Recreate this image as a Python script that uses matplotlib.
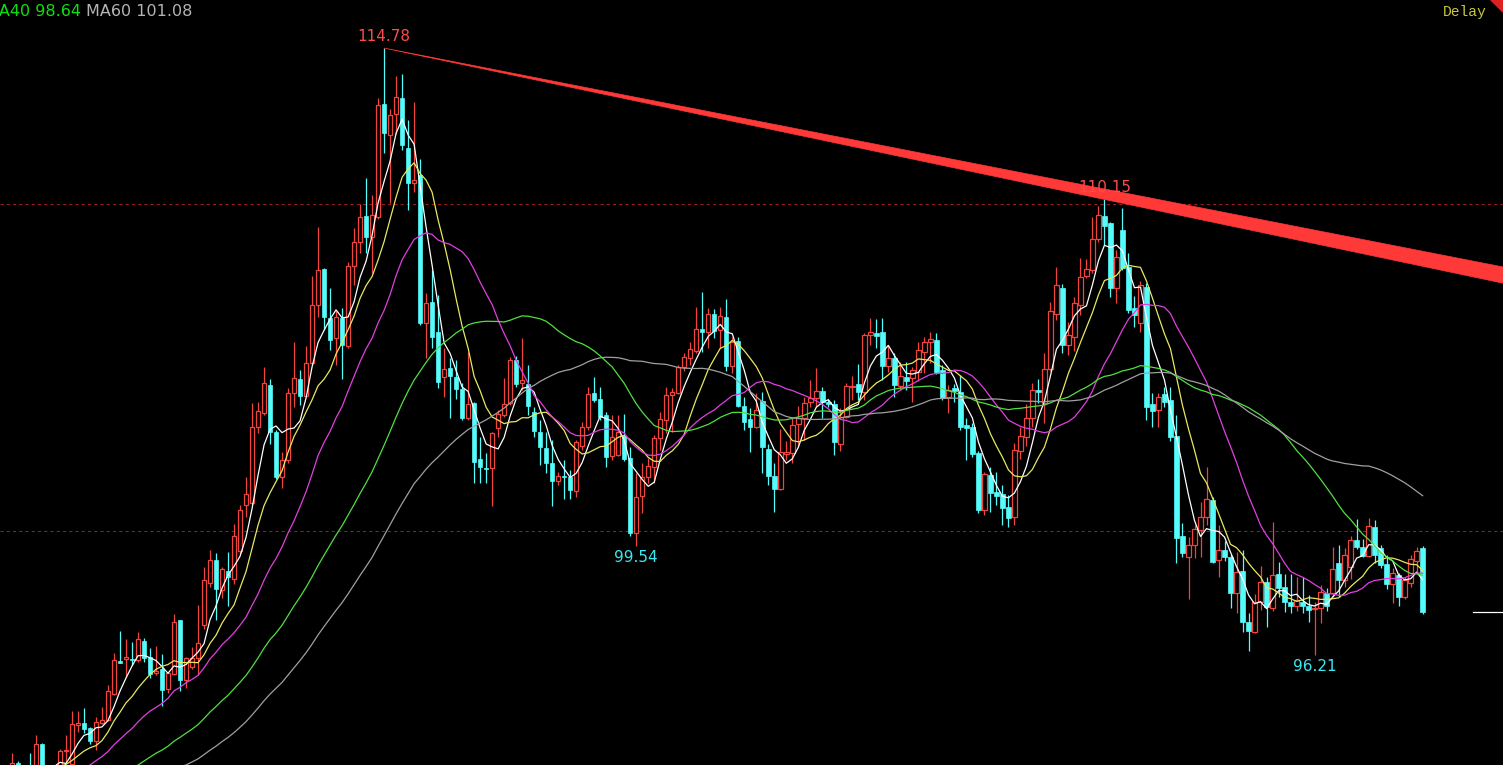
import numpy as np
import pandas as pd
import matplotlib
matplotlib.use("Agg")
import matplotlib.pyplot as plt
from matplotlib.patches import Polygon

# ---------------- data ----------------
# closes before the visible window (needed for the moving averages)
pre_closes = [90.6, 90.9, 90.7, 91.0, 90.8, 90.5, 90.9, 91.1, 90.7, 90.9, 91.0, 90.9,
              91.2, 90.8, 91.0, 91.3, 90.9, 91.1, 90.8, 91.0, 91.2, 91.0, 91.1, 91.1,
              91.5, 91.7, 92.0, 92.0]

opens = [92.50, 92.40, 92.60, 92.92, 92.70, 92.80, 92.70, 93.49, 92.70, 92.50,
         92.70, 93.28, 92.88, 94.07, 94.14, 93.98, 93.59, 94.13, 94.23, 95.02,
         96.03, 96.09, 96.09, 96.06, 96.65, 96.16, 95.67, 95.79, 95.16, 95.63,
         97.28, 95.45, 95.85, 96.13, 97.13, 98.43, 99.12, 98.20, 98.79, 98.54,
         99.40, 100.80, 100.85, 103.20, 103.61, 104.47, 103.04, 101.65, 102.18, 104.22,
         104.65, 104.14, 105.14, 106.92, 108.01, 106.51, 105.90, 106.51, 105.67, 108.11,
         108.86, 109.64, 109.01, 109.62, 113.07, 112.12, 112.76, 113.26, 111.71, 110.66,
         110.90, 106.36, 107.02, 106.08, 104.73, 104.98, 104.73, 104.34, 103.45, 103.91,
         102.21, 101.95, 101.92, 103.15, 103.56, 103.91, 105.24, 104.54, 104.50, 103.66,
         103.04, 102.54, 102.08, 101.54, 101.70, 101.67, 101.24, 102.62, 103.20, 104.22,
         104.04, 103.56, 102.31, 102.33, 102.92, 102.23, 99.94, 101.08, 101.67, 101.97,
         102.84, 103.40, 104.17, 104.24, 105.01, 105.29, 105.52, 106.18, 106.10, 106.64,
         106.16, 106.56, 105.05, 105.83, 103.83, 103.42, 103.20, 103.99, 102.51, 101.69,
         101.29, 102.36, 102.38, 103.28, 103.45, 103.94, 104.07, 104.29, 103.96, 103.89,
         102.67, 103.50, 104.42, 104.50, 104.27, 106.00, 106.05, 106.08, 105.05, 105.29,
         104.44, 104.71, 104.68, 104.88, 105.49, 105.80, 105.85, 104.93, 104.10, 104.37,
         104.27, 103.25, 103.18, 102.38, 100.65, 101.72, 101.19, 101.14, 100.75, 100.43,
         102.46, 102.89, 103.45, 104.32, 103.91, 104.95, 106.64, 107.43, 105.70, 105.95,
         106.92, 107.82, 107.99, 108.93, 109.64, 109.42, 107.43, 109.21, 108.09, 106.82,
         106.38, 107.48, 103.89, 103.71, 104.20, 104.01, 102.91, 99.85, 99.20, 99.58,
         100.04, 100.43, 100.95, 99.12, 99.43, 99.22, 98.12, 98.78, 97.23, 96.93,
         97.84, 98.46, 97.64, 98.69, 98.29, 97.84, 97.72, 97.84, 97.72, 97.62,
         97.64, 98.10, 98.10, 99.02, 98.51, 98.91, 99.73, 99.53, 99.24, 100.12,
         99.48, 99.00, 98.38, 98.66, 97.99, 98.41, 99.10, 99.50]

highs = [92.80, 92.80, 93.22, 92.97, 92.80, 93.22, 93.77, 93.52, 92.80, 92.80,
         93.35, 93.77, 94.51, 94.49, 94.59, 94.00, 94.33, 94.63, 95.30, 96.27,
         96.96, 96.70, 96.62, 96.92, 96.75, 96.43, 96.49, 96.24, 95.60, 97.47,
         97.30, 96.15, 96.47, 97.74, 98.91, 99.43, 99.33, 98.90, 99.37, 100.22,
         100.80, 101.67, 103.93, 103.96, 105.03, 104.66, 103.10, 102.43, 104.37, 105.80,
         104.93, 105.67, 107.81, 109.30, 108.06, 107.43, 106.75, 106.82, 108.24, 109.27,
         110.01, 110.80, 110.28, 113.24, 114.78, 112.91, 113.93, 113.98, 112.58, 113.14,
         111.38, 107.28, 107.99, 107.23, 105.60, 105.29, 105.24, 104.53, 105.49, 103.95,
         102.89, 102.38, 103.05, 103.71, 104.68, 105.32, 105.36, 105.90, 105.08, 103.81,
         103.40, 103.04, 102.79, 101.80, 102.18, 101.87, 102.80, 103.35, 104.42, 104.71,
         104.42, 103.65, 103.56, 103.56, 103.59, 102.58, 101.77, 102.08, 102.25, 102.94,
         103.66, 104.40, 104.37, 105.08, 105.44, 105.78, 106.87, 107.33, 106.82, 106.80,
         106.87, 107.09, 105.95, 105.95, 104.12, 103.76, 104.22, 104.27, 102.67, 102.10,
         103.12, 102.77, 103.50, 103.83, 104.12, 104.63, 104.98, 104.40, 104.05, 104.00,
         103.76, 104.52, 104.75, 105.12, 106.07, 106.51, 106.50, 106.51, 105.70, 105.45,
         105.18, 105.18, 105.03, 105.80, 105.95, 106.10, 106.05, 105.10, 104.47, 104.50,
         104.78, 103.45, 103.30, 102.45, 101.82, 101.97, 101.82, 101.40, 101.10, 102.69,
         103.20, 103.89, 104.54, 104.65, 105.44, 107.02, 108.07, 107.56, 106.41, 107.17,
         108.35, 108.32, 109.62, 109.95, 110.15, 109.47, 108.60, 109.88, 108.50, 107.20,
         107.66, 107.60, 104.22, 104.24, 104.42, 104.42, 103.56, 100.24, 99.83, 100.19,
         100.90, 101.97, 101.05, 100.19, 99.70, 99.30, 99.37, 99.43, 97.50, 98.08,
         98.94, 98.61, 100.29, 99.07, 98.70, 98.70, 98.61, 98.60, 98.05, 97.85,
         98.35, 98.25, 99.53, 99.58, 99.48, 99.85, 100.36, 99.75, 100.40, 100.34,
         99.58, 99.27, 98.87, 98.71, 98.59, 99.27, 99.53, 99.55]

lows = [92.30, 92.20, 92.50, 92.60, 92.40, 92.40, 92.60, 92.50, 92.30, 92.30,
        92.60, 92.90, 92.80, 93.85, 93.83, 93.49, 93.31, 94.10, 94.20, 95.00,
        95.98, 95.55, 95.91, 96.00, 96.00, 95.50, 95.60, 94.65, 95.05, 95.60,
        95.12, 95.20, 95.80, 95.60, 97.00, 98.30, 97.28, 97.96, 97.71, 98.40,
        99.30, 100.44, 100.80, 103.00, 103.55, 102.67, 101.60, 101.31, 102.10, 103.81,
        103.86, 104.10, 105.10, 106.56, 106.16, 105.54, 105.08, 104.65, 105.60, 107.53,
        108.51, 108.50, 107.89, 109.55, 111.56, 110.03, 112.14, 111.66, 109.83, 110.39,
        106.30, 105.29, 105.60, 104.37, 104.12, 103.45, 104.05, 103.40, 103.40, 101.47,
        101.49, 101.47, 100.77, 102.89, 103.50, 103.85, 104.40, 104.32, 103.56, 102.89,
        102.03, 101.77, 100.77, 101.40, 100.98, 100.98, 101.04, 102.50, 103.10, 103.95,
        103.40, 101.97, 102.18, 102.30, 102.15, 99.85, 99.54, 100.55, 101.47, 101.47,
        102.50, 103.00, 103.04, 104.20, 104.90, 105.10, 105.45, 105.49, 105.60, 105.90,
        105.60, 104.90, 104.83, 103.80, 103.10, 102.43, 103.15, 101.77, 101.41, 100.60,
        101.25, 102.18, 102.10, 102.58, 102.80, 103.80, 103.80, 103.45, 103.80, 102.33,
        102.45, 103.45, 104.01, 104.01, 104.00, 105.70, 105.60, 104.63, 104.88, 104.12,
        104.32, 104.32, 103.96, 104.60, 104.83, 105.14, 104.80, 104.00, 103.63, 103.95,
        103.10, 102.18, 102.28, 100.55, 100.50, 100.60, 100.80, 100.19, 100.12, 100.19,
        102.20, 102.60, 103.20, 103.91, 103.30, 104.90, 106.46, 105.44, 105.39, 105.50,
        106.60, 107.75, 107.90, 108.85, 108.76, 107.17, 106.97, 108.00, 106.67, 106.26,
        106.10, 103.40, 103.20, 103.20, 103.80, 102.75, 99.02, 99.22, 97.92, 99.17,
        99.20, 100.20, 99.02, 98.61, 99.10, 97.64, 97.49, 96.93, 96.35, 96.90,
        97.60, 97.08, 97.55, 97.99, 97.54, 97.50, 97.55, 97.50, 97.23, 96.21,
        97.20, 97.55, 98.00, 97.99, 98.30, 98.55, 99.45, 99.20, 99.20, 99.02,
        98.87, 98.22, 97.81, 97.71, 97.92, 98.30, 98.76, 97.47]

closes = [92.60, 92.70, 92.91, 92.70, 92.50, 92.60, 93.48, 92.70, 92.50, 92.70,
          93.28, 93.31, 94.10, 94.14, 93.95, 93.59, 94.16, 94.23, 95.11, 96.06,
          95.98, 96.16, 96.06, 96.70, 96.11, 95.63, 95.73, 95.14, 95.67, 97.23,
          95.45, 96.12, 96.13, 96.59, 98.51, 99.12, 98.23, 98.84, 98.59, 99.85,
          100.65, 101.14, 103.20, 103.69, 104.52, 103.04, 101.65, 102.18, 104.24, 104.68,
          104.14, 105.14, 106.92, 107.99, 106.54, 105.85, 106.56, 105.70, 108.11, 108.86,
          109.62, 109.01, 109.67, 113.04, 112.17, 112.73, 113.27, 111.81, 110.64, 110.74,
          106.36, 106.97, 105.95, 104.57, 104.95, 104.75, 104.34, 103.45, 103.89, 102.13,
          101.97, 101.91, 103.00, 103.59, 103.89, 105.24, 104.50, 104.62, 103.83, 103.08,
          102.57, 102.08, 101.55, 101.69, 101.65, 101.26, 102.72, 103.20, 104.20, 104.01,
          103.50, 102.28, 102.89, 103.04, 102.21, 99.94, 101.06, 101.67, 101.99, 102.84,
          103.42, 104.17, 104.25, 105.01, 105.32, 105.56, 106.18, 106.10, 106.64, 106.13,
          106.58, 105.05, 105.80, 103.83, 103.35, 103.20, 103.71, 102.58, 101.69, 101.29,
          102.43, 102.41, 103.25, 103.45, 103.91, 104.07, 104.29, 103.96, 103.89, 102.74,
          103.50, 104.44, 104.45, 104.27, 106.00, 106.10, 105.98, 105.05, 105.29, 104.47,
          104.75, 104.60, 104.93, 105.54, 105.80, 105.87, 104.88, 104.07, 104.32, 104.30,
          103.20, 103.15, 102.36, 100.65, 101.75, 101.18, 101.08, 100.70, 100.40, 102.48,
          102.91, 103.45, 104.32, 104.27, 104.95, 106.75, 107.53, 105.70, 106.00, 106.97,
          107.79, 108.01, 108.93, 109.67, 109.34, 107.43, 108.40, 108.04, 106.77, 106.61,
          107.53, 103.81, 103.69, 104.12, 103.96, 102.87, 99.78, 99.35, 99.58, 100.06,
          100.43, 100.98, 99.07, 99.43, 99.20, 98.12, 98.76, 97.23, 96.95, 97.84,
          98.46, 97.69, 98.66, 98.25, 97.84, 97.72, 97.90, 97.72, 97.59, 97.64,
          98.15, 97.71, 98.84, 98.51, 99.27, 99.73, 99.53, 99.24, 100.16, 99.27,
          98.97, 98.38, 98.71, 97.99, 98.51, 99.14, 99.40, 97.53]

ma_periods = [5, 10, 20, 40, 60]
ma_colors = ['#ffffff', '#e8e860', '#e040e0', '#50e040', '#a0a0a0']

# marked extremes: (bar index, price)
peak_marks = [(64, 114.78), (184, 110.15)]
trough_marks = [(106, 99.54), (219, 96.21)]
ref_levels = [110.0, 100.0]

header_items = [("MA40 98.64", '#10e010'), ("MA60 101.08", '#b4b4b4')]

# ---------------- style ----------------
W, H = 1503, 765
UP = '#f0443c'
DOWN = '#54fcfc'
BG = 'black'

fig = plt.figure(figsize=(W / 100, H / 100), dpi=100, facecolor=BG)
ax = fig.add_axes([0, 0, 1, 1], facecolor=BG)
ax.set_xlim(0.017, 250.39)
ax.set_ylim(92.85, 116.25)
ax.axis('off')

o = np.array(opens); h = np.array(highs); l = np.array(lows); c = np.array(closes)
h = np.maximum(h, np.maximum(o, c))
l = np.minimum(l, np.minimum(o, c))
x = np.arange(len(c))
up = c >= o
top = np.maximum(o, c)
bot = np.minimum(o, c)
bw = 0.74

# reference dashed levels
for lv in ref_levels:
    ax.axhline(lv, color='#9a1c1c', lw=0.75, ls=(0, (3, 3)), zorder=1)

# wicks
ax.vlines(x[~up], l[~up], h[~up], color=DOWN, lw=0.9, zorder=2)
ax.vlines(x[up], top[up], h[up], color=UP, lw=0.9, zorder=2)
ax.vlines(x[up], l[up], bot[up], color=UP, lw=0.9, zorder=2)

# bodies
hgt = np.maximum(top - bot, 0.025)
ax.bar(x[~up], hgt[~up], bottom=bot[~up], width=bw, color=DOWN, edgecolor=DOWN,
       linewidth=0.5, zorder=2.5)
ax.bar(x[up], hgt[up], bottom=bot[up], width=bw, facecolor=BG, edgecolor=UP,
       linewidth=0.9, zorder=2.5)

# moving averages
allc = pd.Series(pre_closes + closes)
npre = len(pre_closes)
for p, col in zip(ma_periods, ma_colors):
    ma = allc.rolling(p, min_periods=1).mean().values[npre:]
    ax.plot(x, ma, color=col, lw=0.9, zorder=3)

# trend line through the two peaks, drawn as a widening wedge
(i0, p0), (i1, p1) = peak_marks
slope = (p1 - p0) / (i1 - i0)
iend = 252
pend = p0 + slope * (iend - i0)
spread = 0.5
wedge = Polygon([(i0, p0), (iend, pend), (iend, pend + spread)], closed=True,
                facecolor='#ff3838', edgecolor='#ff3838', lw=0.5, zorder=4)
ax.add_patch(wedge)

# extreme labels
for i, p in peak_marks:
    ax.annotate(f"{p:.2f}", (i, p), xytext=(0, 3), textcoords='offset points',
                ha='center', va='bottom', color='#ff4a4a', fontsize=11, zorder=5)
for i, p in trough_marks:
    ax.annotate(f"{p:.2f}", (i, p), xytext=(0, -3), textcoords='offset points',
                ha='center', va='top', color='#3ce8f0', fontsize=11, zorder=5)

# last price tick at the right edge
ax.axhline(closes[-1], xmin=1473 / W, xmax=1.0, color='white', lw=0.9, zorder=4)

# header (the first item is clipped at the left edge, as in the original)
fig.text(-15 / W, 1 - 11 / H, header_items[0][0], color=header_items[0][1],
         fontsize=11.5, va='center', ha='left')
fig.text(86 / W, 1 - 11 / H, header_items[1][0], color=header_items[1][1],
         fontsize=11.5, va='center', ha='left')
fig.text(1443 / W, 1 - 12 / H, "Delay", color='#c8c83c', fontsize=10.5,
         family='Liberation Mono', va='center', ha='left')

# red corner flag
fig.patches.append(Polygon([(1490 / W, 1.0), (1.0, 1.0), (1.0, 1 - 13 / H)],
                           closed=True, transform=fig.transFigure,
                           facecolor='#e02020', edgecolor='none'))

fig.savefig('out.png', dpi=100, facecolor=BG)
